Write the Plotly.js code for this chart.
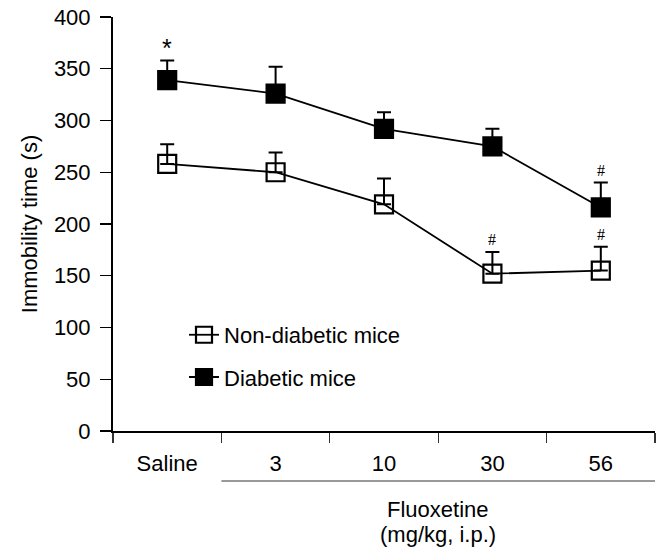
<!DOCTYPE html>
<html>
<head>
<meta charset="utf-8">
<script src="https://cdn.plot.ly/plotly-3.0.1.min.js"></script>
<style>html,body{margin:0;padding:0;background:#fff;}#chart{width:664px;height:547px;}</style>
</head>
<body>
<div id="chart"></div>
<script>
// ---- data ----
var categories = ['Saline', '3', '10', '30', '56'];
var nonDiabeticMean = [258, 250, 219, 152, 155];
var nonDiabeticSem  = [19, 19, 25, 21, 23];
var diabeticMean    = [339, 326, 292, 275, 216];
var diabeticSem     = [19, 26, 16, 17, 24];
var diabeticMarks    = ['*', '', '', '', '#'];
var nonDiabeticMarks = ['', '', '', '#', '#'];
var seriesNames = ['Non-diabetic mice', 'Diabetic mice'];
var yTicks = [0, 50, 100, 150, 200, 250, 300, 350, 400];
var groupLabelLines = ['Fluoxetine', '(mg/kg, i.p.)'];

var FONT = 'Arial, "Liberation Sans", Helvetica, sans-serif';
var idx = categories.map(function (c, i) { return i; });
var zeros = categories.map(function () { return 0; });

function trace(name, mean, sem, symbol, legendId) {
  return {
    type: 'scatter', mode: 'lines+markers', name: name,
    x: idx, y: mean, legend: legendId,
    line: {color: '#000', width: 1.8},
    marker: {symbol: symbol, size: 18, color: '#000', line: {color: '#000', width: 2.2}},
    error_y: {type: 'data', symmetric: false, array: sem, arrayminus: zeros,
              color: '#000', thickness: 2, width: 7},
    cliponaxis: false
  };
}

var data = [
  trace(seriesNames[0], nonDiabeticMean, nonDiabeticSem, 'square-open', 'legend'),
  trace(seriesNames[1], diabeticMean, diabeticSem, 'square', 'legend2')
];

var annotations = [];
function addMarks(marks, mean, sem) {
  marks.forEach(function (m, i) {
    if (!m) return;
    var star = m === '*';
    annotations.push({
      x: i, y: mean[i] + sem[i], xref: 'x', yref: 'y', text: m, showarrow: false,
      yanchor: 'bottom', yshift: star ? -4 : 2,
      font: {family: star ? FONT : '"Liberation Serif", "Times New Roman", serif',
             size: star ? 25 : 16, color: '#000'}
    });
  });
}
addMarks(diabeticMarks, diabeticMean, diabeticSem);
addMarks(nonDiabeticMarks, nonDiabeticMean, nonDiabeticSem);

var groupCenter = (0.5 + categories.length - 0.5) / 2;
var groupY = [-0.1908, -0.2512];
groupLabelLines.forEach(function (t, k) {
  annotations.push({
    x: groupCenter, xref: 'x', y: groupY[k], yref: 'paper',
    yanchor: 'middle', showarrow: false, text: t,
    font: {family: FONT, size: 22, color: '#000'}
  });
});

var boundaries = [];
for (var b = 0; b <= categories.length; b++) boundaries.push(b - 0.5);

var layout = {
  width: 664, height: 547,
  margin: {l: 113, r: 9, t: 17, b: 116},
  paper_bgcolor: '#fff', plot_bgcolor: '#fff',
  font: {family: FONT, size: 22, color: '#000'},
  showlegend: true,
  xaxis: {
    range: [-0.5, categories.length - 0.5],
    tickmode: 'array', tickvals: idx, ticktext: categories,
    ticks: '', showgrid: false, zeroline: false,
    showline: true, linecolor: '#000', linewidth: 2,
    ticklabelstandoff: 12,
    tickfont: {family: FONT, size: 22, color: '#000'},
    minor: {tickmode: 'array', tickvals: boundaries, ticks: 'outside',
            ticklen: 10, tickwidth: 1.2, tickcolor: '#333', showgrid: false},
    fixedrange: true
  },
  yaxis: {
    range: [0, 400], tickmode: 'array', tickvals: yTicks,
    ticks: 'outside', ticklen: 11, tickwidth: 1.2, tickcolor: '#000',
    showline: true, linecolor: '#000', linewidth: 2,
    showgrid: false, zeroline: false,
    ticklabelstandoff: 5,
    tickfont: {family: FONT, size: 22, color: '#000'},
    title: {text: 'Immobility time (s)', font: {family: FONT, size: 22, color: '#000'}, standoff: 10},
    fixedrange: true
  },
  legend: {x: 0.131, xanchor: 'left', y: 0.232, yanchor: 'middle',
           bgcolor: 'rgba(0,0,0,0)', font: {family: FONT, size: 22, color: '#000'}},
  legend2: {x: 0.131, xanchor: 'left', y: 0.130, yanchor: 'middle',
            bgcolor: 'rgba(0,0,0,0)', font: {family: FONT, size: 22, color: '#000'}},
  shapes: [{
    type: 'line', xref: 'x', yref: 'paper',
    x0: 0.5, x1: categories.length - 0.5, y0: -0.121, y1: -0.121,
    line: {color: '#777', width: 1.5}
  }],
  annotations: annotations
};

Plotly.newPlot('chart', data, layout, {displayModeBar: false, staticPlot: true});
</script>
</body>
</html>
